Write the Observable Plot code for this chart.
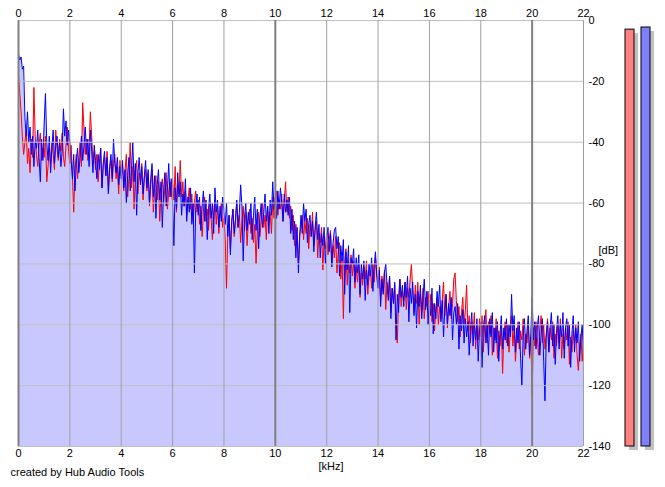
<!DOCTYPE html>
<html><head><meta charset="utf-8">
<script src="https://cdn.jsdelivr.net/npm/d3@7"></script>
<script src="https://cdn.jsdelivr.net/npm/@observablehq/plot@0.6"></script>
<style>
body{margin:0;background:#fff;}
#wrap{position:relative;width:665px;height:487px;overflow:hidden;}
#wrap svg{position:absolute;top:0;}
</style></head><body><div id="wrap"></div>
<script>
// Spectrum levels in dB, one value every 0.05 kHz from 0 to 22 kHz (one row per kHz)
const blueDb = [
  -11,-13,-12,-16,-15,-32,-38,-30,-40,-35,-44,-38,-48,-40,-42,-36,-45,-53,-39,-46,
  -34,-24,-40,-46,-38,-50,-42,-36,-47,-41,-38,-45,-40,-48,-43,-29,-38,-33,-41,-36,
  -40,-46,-52,-44,-56,-47,-42,-50,-45,-38,-46,-41,-35,-44,-39,-48,-36,-43,-50,-41,
  -46,-52,-44,-49,-42,-55,-47,-43,-51,-45,-57,-48,-44,-52,-39,-47,-50,-45,-54,-48,
  -52,-46,-55,-49,-60,-51,-45,-56,-49,-40,-53,-47,-64,-50,-45,-54,-48,-57,-51,-46,
  -55,-49,-60,-52,-47,-58,-51,-65,-54,-49,-59,-53,-68,-56,-50,-61,-55,-47,-58,-52,
  -60,-74,-55,-62,-50,-58,-53,-64,-57,-61,-52,-66,-58,-63,-55,-67,-60,-83,-62,-57,
  -64,-58,-69,-61,-56,-66,-59,-72,-62,-57,-65,-60,-70,-55,-63,-59,-68,-61,-66,-58,
  -63,-67,-60,-71,-64,-77,-66,-62,-70,-65,-59,-68,-63,-54,-61,-79,-65,-60,-69,-63,
  -67,-60,-72,-64,-58,-69,-62,-75,-65,-60,-68,-63,-57,-66,-61,-70,-59,-64,-53,-62,
  -58,-65,-56,-62,-55,-60,-66,-57,-63,-59,-64,-58,-70,-62,-72,-66,-78,-68,-83,-71,
  -64,-70,-60,-66,-62,-73,-67,-64,-71,-66,-76,-68,-63,-72,-67,-78,-70,-74,-68,-80,
  -72,-68,-76,-70,-81,-73,-69,-68,-75,-71,-84,-74,-79,-72,-90,-76,-82,-74,-96,-78,
  -80,-75,-86,-78,-83,-77,-90,-80,-85,-79,-92,-82,-87,-80,-84,-78,-89,-81,-76,-84,
  -88,-82,-94,-85,-90,-83,-80,-87,-92,-84,-98,-88,-93,-86,-105,-90,-96,-85,-91,-87,
  -94,-86,-91,-84,-99,-88,-93,-86,-97,-90,-101,-89,-94,-87,-98,-91,-85,-95,-89,-100,
  -92,-97,-88,-103,-93,-98,-89,-94,-87,-99,-92,-104,-95,-90,-100,-93,-97,-91,-105,-96,
  -94,-100,-93,-108,-97,-102,-95,-106,-98,-104,-99,-110,-101,-96,-107,-100,-105,-98,-112,-102,
  -99,-114,-101,-97,-106,-100,-110,-98,-104,-96,-109,-101,-106,-99,-112,-103,-97,-108,-101,-105,
  -98,-107,-100,-104,-90,-102,-97,-109,-101,-106,-99,-111,-120,-104,-98,-108,-102,-97,-110,-103,
  -91,-105,-99,-108,-101,-97,-110,-103,-98,-112,-125,-104,-99,-109,-101,-96,-107,-100,-113,-102,
  -97,-108,-100,-104,-96,-111,-101,-98,-107,-100,-114,-103,-97,-109,-101,-106,-99,-112,-104,-100,
  -110
];
const redDb = [
  -18,-24,-30,-38,-44,-40,-36,-47,-42,-50,-39,-45,-22,-38,-44,-48,-41,-37,-46,-42,
  -45,-38,-53,-48,-42,-47,-40,-44,-49,-36,-42,-46,-39,-43,-37,-45,-48,-41,-35,-43,
  -47,-41,-51,-63,-49,-44,-52,-46,-40,-48,-27,-36,-44,-39,-46,-42,-30,-38,-47,-43,
  -49,-44,-53,-47,-42,-55,-48,-45,-51,-43,-56,-49,-46,-53,-47,-44,-52,-48,-57,-46,
  -51,-47,-56,-49,-44,-58,-52,-40,-55,-48,-62,-51,-46,-57,-50,-53,-47,-59,-52,-49,
  -56,-50,-61,-54,-49,-63,-55,-51,-59,-53,-66,-57,-52,-60,-55,-50,-62,-56,-53,-58,
  -52,-59,-48,-63,-54,-57,-46,-58,-53,-61,-56,-64,-59,-55,-62,-57,-66,-60,-56,-63,
  -59,-67,-61,-71,-63,-58,-66,-62,-69,-60,-65,-72,-63,-59,-67,-61,-70,-64,-60,-68,
  -65,-72,-88,-70,-64,-75,-67,-62,-71,-66,-60,-68,-64,-73,-66,-61,-69,-63,-74,-66,
  -62,-70,-65,-73,-67,-80,-69,-63,-71,-66,-60,-68,-64,-72,-61,-67,-63,-70,-58,-65,
  -61,-56,-64,-59,-62,-57,-66,-60,-53,-63,-58,-65,-61,-69,-64,-74,-67,-72,-80,-70,
  -68,-64,-72,-66,-70,-65,-75,-67,-71,-63,-74,-69,-66,-78,-70,-73,-68,-82,-72,-75,
  -70,-77,-72,-69,-80,-74,-78,-71,-83,-76,-73,-85,-78,-98,-80,-75,-87,-79,-83,-77,
  -84,-79,-88,-81,-86,-80,-91,-83,-87,-81,-85,-79,-90,-84,-82,-88,-80,-86,-78,-83,
  -86,-81,-92,-84,-89,-82,-95,-86,-90,-84,-96,-88,-93,-87,-99,-106,-91,-85,-94,-89,
  -92,-86,-95,-88,-91,-85,-80,-89,-96,-87,-93,-86,-100,-90,-95,-88,-98,-91,-94,-89,
  -96,-90,-99,-93,-102,-95,-91,-100,-94,-98,-92,-86,-97,-90,-101,-94,-89,-98,-93,-85,
  -83,-92,-99,-94,-104,-96,-91,-100,-95,-87,-102,-97,-106,-99,-103,-96,-108,-100,-105,-98,
  -104,-97,-109,-100,-95,-106,-99,-103,-97,-110,-101,-105,-98,-111,-102,-107,-100,-116,-103,-99,
  -106,-100,-109,-102,-97,-107,-101,-112,-104,-99,-108,-102,-105,-98,-110,-103,-106,-100,-111,-104,
  -123,-101,-107,-99,-104,-110,-102,-97,-106,-100,-108,-103,-98,-109,-101,-105,-99,-111,-103,-107,
  -100,-106,-98,-111,-103,-108,-101,-105,-99,-113,-104,-109,-102,-106,-100,-110,-115,-107,-103,-112,
  -106
];
const xTicks = [0,2,4,6,8,10,12,14,16,18,20,22];
const xMajorTicks = [0,10,20];
const yTicks = [0,-20,-40,-60,-80,-100,-120,-140];
const meterChannels = ["L","R"];
const meterLevels = [-3.0,-2.3];
const xLabel = "[kHz]";
const yLabel = "[dB]";
const credit = "created by Hub Audio Tools";

const floorDb = -140;
const freqKHz = d3.range(blueDb.length).map(i => i / 20);
const rows = freqKHz.map((f, i) => ({f, red: redDb[i], blue: blueDb[i]}));
const meterRows = meterChannels.map((ch, i) => ({ch, level: meterLevels[i]}));

const font = {fontFamily: "'Liberation Sans', Arial, sans-serif", fontSize: "11px", background: "transparent", color: "#000", overflow: "visible"};

const chart = Plot.plot({
  width: 665, height: 487,
  marginLeft: 18, marginRight: 82, marginTop: 20, marginBottom: 41,
  style: font,
  x: {domain: [0, 22]},
  y: {domain: [floorDb, 0]},
  marks: [
    Plot.areaY(rows, {x: "f", y1: floorDb, y2: "red", fill: "#c8c8ff"}),
    Plot.areaY(rows, {x: "f", y1: floorDb, y2: "blue", fill: "#c8c8ff"}),
    Plot.lineY(rows, {x: "f", y: "red", stroke: "#ff0000", strokeWidth: 1}),
    Plot.lineY(rows, {x: "f", y: "blue", stroke: "#0000ff", strokeWidth: 1}),
    Plot.gridY(yTicks, {stroke: "#c0c0c0", strokeOpacity: 1}),
    Plot.gridX(xTicks.filter(t => !xMajorTicks.includes(t)), {stroke: "#a0a0a0", strokeOpacity: 1}),
    Plot.gridX(xMajorTicks, {stroke: "#808080", strokeWidth: 2, strokeOpacity: 1}),
    Plot.axisX(xTicks, {anchor: "top", tickSize: 0, tickPadding: 4, label: null}),
    Plot.axisX(xTicks, {anchor: "bottom", tickSize: 0, tickPadding: 3, label: null}),
    Plot.axisY(yTicks, {anchor: "right", tickSize: 0, tickPadding: 5, tickFormat: d => String(d), label: null}),
    Plot.text([xLabel], {text: d => d, frameAnchor: "bottom", dx: 30, dy: 23}),
    Plot.text([yLabel], {text: d => d, frameAnchor: "right", dx: 15, dy: 17, textAnchor: "start"}),
    Plot.text([credit], {text: d => d, frameAnchor: "bottom-left", dx: -8, dy: 29, textAnchor: "start"})
  ]
});

const meter = Plot.plot({
  width: 40, height: 487,
  marginLeft: 0, marginRight: 0, marginTop: 20, marginBottom: 41,
  style: font,
  x: {domain: meterChannels, paddingInner: 0.4375, paddingOuter: 0.46875, axis: null},
  y: {domain: [floorDb, 0], axis: null},
  color: {domain: meterChannels, range: ["#ff8080", "#8080ff"]},
  marks: [
    Plot.barY(meterRows, {x: "ch", y1: floorDb, y2: "level", fill: "#c0c0c0", dx: 4, dy: 4}),
    Plot.barY(meterRows, {x: "ch", y1: floorDb, y2: "level", fill: "ch", stroke: "#000", strokeWidth: 1})
  ]
});
meter.style.left = "617px";
chart.style.left = "0px";
const wrap = document.getElementById("wrap");
wrap.append(chart, meter);
</script>
</body></html>
